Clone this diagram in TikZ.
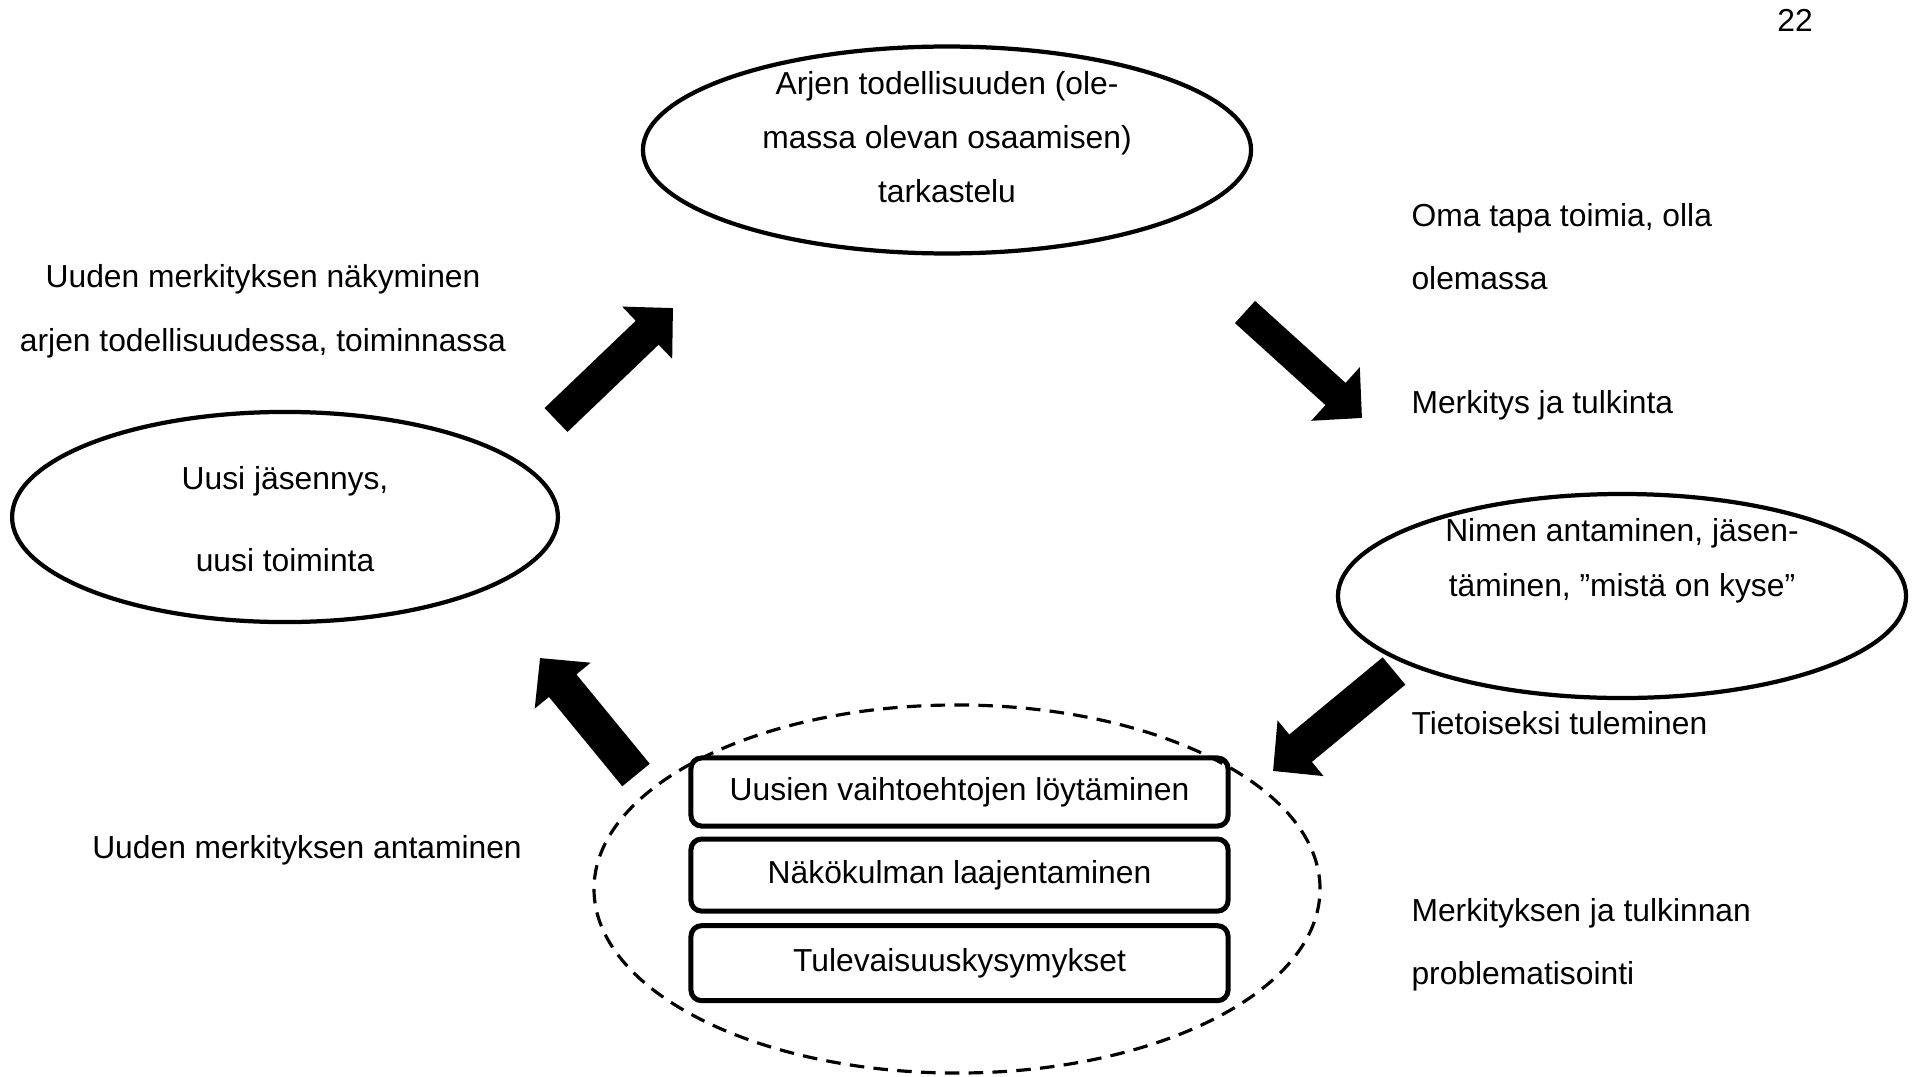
\documentclass[tikz,border=0pt]{standalone}
\usepackage{fontspec}
\setmainfont{Liberation Sans}
\usetikzlibrary{shapes.geometric,positioning,arrows.meta}

\tikzset{
  ell/.style={draw,ellipse,line width=1.6pt,inner sep=0pt},
  txt/.style={font=\fontsize{12}{20.5}\selectfont,align=center,inner sep=0pt},
  lbl/.style={font=\fontsize{12}{23.8}\selectfont,align=left,anchor=west,inner sep=0pt},
  bx/.style={draw,rounded corners=4pt,line width=1.9pt,minimum width=202.7pt,minimum height=25.7pt,
    inner sep=0pt,font=\fontsize{12}{14}\selectfont},
  blk/.style={line width=12.5pt,-{Triangle[width=26.5pt,length=13.5pt]}}
}

\begin{document}
\begin{tikzpicture}[x=0.3774pt,y=-0.3774pt,node distance=3pt]
  \useasboundingbox (0,0) rectangle (1912,1076);
  % ellipses
  \node[ell,minimum width=229.5pt,minimum height=78.1pt](arki) at (947,150) {};
  \node[ell,minimum width=206pt,minimum height=79.3pt](uusi) at (285,517) {};
  \node[ell,minimum width=214.4pt,minimum height=77pt](nimi) at (1622,596) {};
  \node[ell,dashed,line width=1.2pt,dash pattern=on 5.5pt off 3.5pt,
    minimum width=274pt,minimum height=138.9pt](pohdinta) at (957,889) {};
  % texts in the ellipses
  \node[txt](arkiteksti) at (947,137) {Arjen todellisuuden (ole-\\massa olevan osaamisen)\\tarkastelu};
  \node[txt,font=\fontsize{12}{31}\selectfont](uusiteksti) at (285,519) {Uusi jäsennys,\\uusi toiminta};
  \node[txt,font=\fontsize{12}{20.8}\selectfont](nimiteksti) at (1622,561) {Nimen antaminen, jäsen-\\täminen, ”mistä on kyse”};
  % boxes
  \node[bx](vaihto) at (959.5,792) {Uusien vaihtoehtojen löytäminen};
  \node[bx,below=of vaihto,minimum height=27.2pt](nakokulma) {Näkökulman laajentaminen};
  \node[bx,below=3.6pt of nakokulma,minimum height=28.3pt](tulevaisuus) {Tulevaisuuskysymykset};
  % labels
  \node[lbl](oma) at (1411,247) {Oma tapa toimia, olla\\olemassa};
  \node[lbl](merkitys) at (1411,405) {Merkitys ja tulkinta};
  \node[lbl](tietoiseksi) at (1411,723) {Tietoiseksi tuleminen};
  \node[lbl](problem) at (1411,945) {Merkityksen ja tulkinnan\\problematisointi};
  \node[lbl,anchor=center,align=center,font=\fontsize{12}{24}\selectfont](nakyminen) at (263,311)
    {Uuden merkityksen näkyminen\\arjen todellisuudessa, toiminnassa};
  \node[lbl,anchor=center](antaminen) at (307,850) {Uuden merkityksen antaminen};
  \node[lbl,anchor=center](sivu) at (1795,20) {22};
  % block arrows
  \coordinate (a1s) at (556,420);   \coordinate (a1e) at (673,308);
  \coordinate (a2s) at (1245,312);  \coordinate (a2e) at (1362,418);
  \coordinate (a3s) at (1394,671);  \coordinate (a3e) at (1273,771);
  \coordinate (a4s) at (636,775);   \coordinate (a4e) at (540,658);
  \draw[blk] (a1s) -- (a1e);
  \draw[blk,line width=11.3pt] (a2s) -- (a2e);
  \draw[blk,line width=13.4pt] (a3s) -- (a3e);
  \draw[blk,line width=13.4pt] (a4s) -- (a4e);
\end{tikzpicture}
\end{document}
